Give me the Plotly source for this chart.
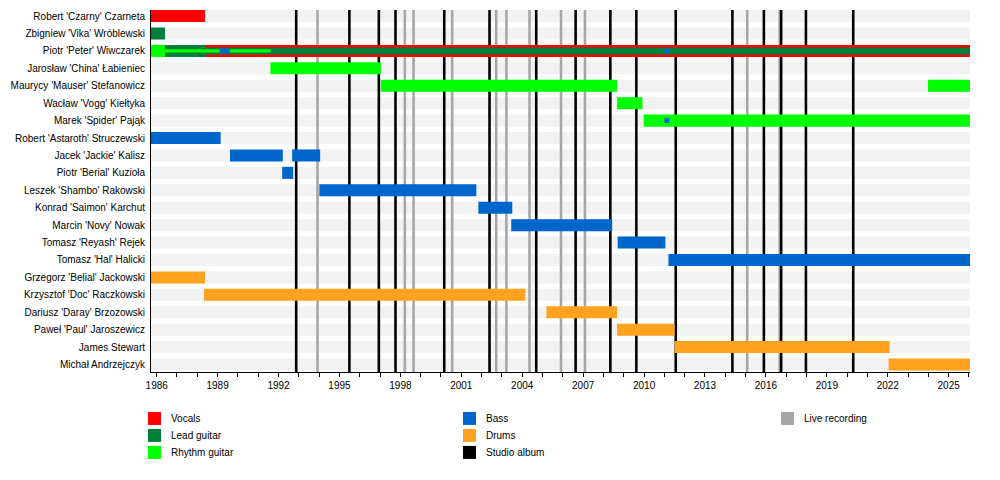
import plotly.graph_objects as go

# Timeline span (decimal years)
period_start = 1985.72
period_end = 2026.05

members = [
    "Robert 'Czarny' Czarneta",
    "Zbigniew 'Vika' Wróblewski",
    "Piotr 'Peter' Wiwczarek",
    "Jarosław 'China' Łabieniec",
    "Maurycy 'Mauser' Stefanowicz",
    "Wacław 'Vogg' Kiełtyka",
    "Marek 'Spider' Pająk",
    "Robert 'Astaroth' Struczewski",
    "Jacek 'Jackie' Kalisz",
    "Piotr 'Berial' Kuzioła",
    "Leszek 'Shambo' Rakowski",
    "Konrad 'Saimon' Karchut",
    "Marcin 'Novy' Nowak",
    "Tomasz 'Reyash' Rejek",
    "Tomasz 'Hal' Halicki",
    "Grzegorz 'Belial' Jackowski",
    "Krzysztof 'Doc' Raczkowski",
    "Dariusz 'Daray' Brzozowski",
    "Paweł 'Paul' Jaroszewicz",
    "James Stewart",
    "Michał Andrzejczyk",
]

# (member, start, end) for each role
vocals = [
    ("Robert 'Czarny' Czarneta", 1985.72, 1988.38),
    ("Piotr 'Peter' Wiwczarek", 1988.38, 2026.05),
]
lead_guitar = [
    ("Zbigniew 'Vika' Wróblewski", 1985.72, 1986.41),
    ("Piotr 'Peter' Wiwczarek", 1986.41, 1988.38),
]
rhythm_guitar = [
    ("Piotr 'Peter' Wiwczarek", 1985.72, 1986.41),
    ("Jarosław 'China' Łabieniec", 1991.60, 1997.04),
    ("Maurycy 'Mauser' Stefanowicz", 1997.04, 2008.67),
    ("Maurycy 'Mauser' Stefanowicz", 2023.98, 2026.05),
    ("Wacław 'Vogg' Kiełtyka", 2008.67, 2009.92),
    ("Marek 'Spider' Pająk", 2009.98, 2026.05),
]
bass = [
    ("Robert 'Astaroth' Struczewski", 1985.72, 1989.15),
    ("Jacek 'Jackie' Kalisz", 1989.61, 1992.21),
    ("Jacek 'Jackie' Kalisz", 1992.67, 1994.05),
    ("Piotr 'Berial' Kuzioła", 1992.18, 1992.72),
    ("Leszek 'Shambo' Rakowski", 1994.01, 2001.74),
    ("Konrad 'Saimon' Karchut", 2001.84, 2003.51),
    ("Marcin 'Novy' Nowak", 2003.46, 2008.43),
    ("Tomasz 'Reyash' Rejek", 2008.70, 2011.05),
    ("Tomasz 'Hal' Halicki", 2011.20, 2026.05),
]
drums = [
    ("Grzegorz 'Belial' Jackowski", 1985.72, 1988.38),
    ("Krzysztof 'Doc' Raczkowski", 1988.33, 2004.15),
    ("Dariusz 'Daray' Brzozowski", 2005.19, 2008.67),
    ("Paweł 'Paul' Jaroszewicz", 2008.67, 2011.50),
    ("James Stewart", 2011.50, 2022.09),
    ("Michał Andrzejczyk", 2022.04, 2026.05),
]

# secondary roles, drawn as narrower bands inside the main bar
lead_guitar_inner = [("Piotr 'Peter' Wiwczarek", 1988.38, 2026.05)]
rhythm_guitar_thin = [("Piotr 'Peter' Wiwczarek", 1986.41, 1991.60)]
bass_thin = [
    ("Piotr 'Peter' Wiwczarek", 1989.10, 1989.60),
    ("Piotr 'Peter' Wiwczarek", 2011.00, 2011.25),
    ("Marek 'Spider' Pająk", 2011.00, 2011.25),
]

studio_albums = [1992.87, 1995.49, 1996.94, 1997.76, 2000.16, 2002.39, 2004.69,
                 2006.63, 2008.34, 2009.62, 2011.56, 2014.35, 2015.90, 2016.75,
                 2017.97, 2020.30]
live_recordings = [1993.92, 1998.22, 1998.65, 2000.55, 2002.72, 2003.22, 2004.36,
                   2005.91, 2007.09, 2015.08, 2016.68]

colors = {
    "Vocals": "#ff0000",
    "Lead guitar": "#00803a",
    "Rhythm guitar": "#00ff00",
    "Bass": "#0066cc",
    "Drums": "#ffa21f",
    "Studio album": "#000000",
    "Live recording": "#a6a6a6",
}

y_top, y_bottom = -0.35, 20.43
bar_w = 0.69

# page has an 8px body margin, so work in figure pixels = page pixels - 8
off = 8
fig_w, fig_h = 1000 - 2 * off, 480 - 2 * off
plot_l, plot_r, plot_t, plot_b = 151 - off, 970 - off, 9.7 - off, 372 - off


def bars(rows, color, width):
    return go.Bar(
        orientation="h",
        y=[members.index(m) for m, _, _ in rows],
        base=[s for _, s, _ in rows],
        x=[e - s for _, s, e in rows],
        width=width,
        marker=dict(color=color, line_width=0),
        hoverinfo="skip",
        showlegend=False,
    )


fig = go.Figure()

# light grey background stripe for every member (below everything)
for i in range(len(members)):
    fig.add_shape(type="rect", xref="x", yref="y", layer="below",
                  x0=period_start, x1=period_end, y0=i - bar_w / 2, y1=i + bar_w / 2,
                  fillcolor="#f2f2f2", line_width=0)

# release markers
for d in live_recordings:
    fig.add_shape(type="line", xref="x", yref="y", layer="below",
                  x0=d, x1=d, y0=y_top, y1=y_bottom,
                  line=dict(color=colors["Live recording"], width=2.6))
for d in studio_albums:
    fig.add_shape(type="line", xref="x", yref="y", layer="below",
                  x0=d, x1=d, y0=y_top, y1=y_bottom,
                  line=dict(color=colors["Studio album"], width=2.6))

fig.add_trace(bars(vocals, colors["Vocals"], bar_w))
fig.add_trace(bars(lead_guitar, colors["Lead guitar"], bar_w))
fig.add_trace(bars(rhythm_guitar, colors["Rhythm guitar"], bar_w))
fig.add_trace(bars(bass, colors["Bass"], bar_w))
fig.add_trace(bars(drums, colors["Drums"], bar_w))
fig.add_trace(bars(lead_guitar_inner, colors["Lead guitar"], 0.40))
fig.add_trace(bars(rhythm_guitar_thin, colors["Rhythm guitar"], 0.19))
fig.add_trace(bars(bass_thin, colors["Bass"], 0.28))

fig.update_layout(
    width=fig_w,
    height=fig_h,
    margin=dict(l=plot_l, r=fig_w - plot_r, t=plot_t, b=fig_h - plot_b, autoexpand=False),
    plot_bgcolor="white",
    paper_bgcolor="white",
    barmode="overlay",
    showlegend=False,
    font=dict(family="Liberation Sans, Arial, sans-serif", size=10, color="black"),
)
fig.update_xaxes(
    range=[period_start, period_end],
    tickmode="linear", tick0=1986, dtick=3,
    ticks="outside", ticklen=4, tickcolor="black",
    minor=dict(tick0=1986, dtick=1, ticks="outside", ticklen=4, tickcolor="black", showgrid=False),
    showline=True, linecolor="black", linewidth=1,
    showgrid=False, zeroline=False, automargin=False,
)
fig.update_yaxes(
    range=[y_bottom, y_top],
    tickmode="array", tickvals=list(range(len(members))), ticktext=members,
    showline=True, linecolor="black", linewidth=1,
    showgrid=False, zeroline=False, ticks="", automargin=False,
    ticklabelstandoff=3,
)

# legend drawn below the plot in three columns (page pixel positions)
legend_cols = [
    ["Vocals", "Lead guitar", "Rhythm guitar"],
    ["Bass", "Drums", "Studio album"],
    ["Live recording"],
]
col_px = [148, 463, 781]
row_px = [418.5, 435.5, 452.5]
pw = plot_r - plot_l
ph = plot_b - plot_t


def px_x(x):
    return (x - off - plot_l) / pw


def px_y(y):
    return (plot_b - (y - off)) / ph


for ci, items in enumerate(legend_cols):
    for ri, name in enumerate(items):
        fig.add_shape(type="rect", xref="paper", yref="paper",
                      x0=px_x(col_px[ci]), x1=px_x(col_px[ci] + 13),
                      y0=px_y(row_px[ri] + 6.5), y1=px_y(row_px[ri] - 6.5),
                      fillcolor=colors[name], line_width=0)
        fig.add_annotation(text=name, xref="paper", yref="paper",
                           x=px_x(col_px[ci] + 21), y=px_y(row_px[ri]),
                           xanchor="left", yanchor="middle", showarrow=False)

fig.write_html("out.html")
